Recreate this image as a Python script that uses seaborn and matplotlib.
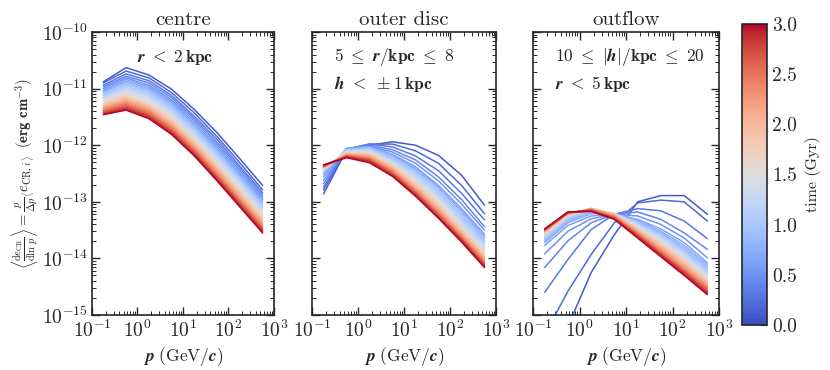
import numpy as np
import pandas as pd
import matplotlib
matplotlib.use('Agg')
import matplotlib.pyplot as plt
import seaborn as sns

# momentum bins (GeV/c) and snapshot times (Gyr)
momentum = [0.178, 0.562, 1.78, 5.62, 17.8, 56.2, 178, 562]
times = [0.1, 0.2, 0.3, 0.4, 0.5, 0.6, 0.7, 0.8, 0.9, 1.0,
         1.1, 1.2, 1.3, 1.4, 1.5, 1.6, 1.7, 1.8, 1.9, 2.0,
         2.1, 2.2, 2.3, 2.4, 2.5, 2.6, 2.7, 2.8, 2.9, 3.0]

# log10 of the CR energy density spectrum, one row per snapshot
centre_log = [
    [-10.88, -10.63, -10.76, -11.01, -11.37, -11.78, -12.24, -12.71],
    [-10.90, -10.69, -10.81, -11.07, -11.43, -11.85, -12.31, -12.79],
    [-10.94, -10.74, -10.86, -11.12, -11.49, -11.90, -12.37, -12.84],
    [-10.97, -10.78, -10.90, -11.16, -11.53, -11.95, -12.41, -12.88],
    [-11.00, -10.81, -10.94, -11.20, -11.57, -11.99, -12.45, -12.92],
    [-11.03, -10.84, -10.97, -11.23, -11.61, -12.03, -12.49, -12.96],
    [-11.05, -10.87, -11.00, -11.26, -11.64, -12.06, -12.52, -12.99],
    [-11.07, -10.89, -11.03, -11.29, -11.67, -12.09, -12.55, -13.01],
    [-11.10, -10.92, -11.06, -11.32, -11.70, -12.12, -12.58, -13.04],
    [-11.12, -10.95, -11.09, -11.35, -11.73, -12.15, -12.61, -13.07],
    [-11.14, -10.98, -11.12, -11.38, -11.76, -12.18, -12.64, -13.10],
    [-11.16, -11.00, -11.14, -11.41, -11.79, -12.21, -12.67, -13.13],
    [-11.18, -11.02, -11.17, -11.44, -11.82, -12.24, -12.70, -13.16],
    [-11.20, -11.05, -11.19, -11.46, -11.84, -12.26, -12.72, -13.18],
    [-11.22, -11.07, -11.22, -11.49, -11.87, -12.29, -12.75, -13.21],
    [-11.24, -11.09, -11.24, -11.51, -11.89, -12.32, -12.78, -13.24],
    [-11.25, -11.12, -11.27, -11.54, -11.92, -12.34, -12.80, -13.26],
    [-11.27, -11.14, -11.29, -11.56, -11.94, -12.37, -12.83, -13.29],
    [-11.29, -11.16, -11.31, -11.58, -11.96, -12.39, -12.85, -13.31],
    [-11.30, -11.18, -11.33, -11.61, -11.99, -12.42, -12.88, -13.34],
    [-11.32, -11.20, -11.35, -11.63, -12.01, -12.44, -12.90, -13.36],
    [-11.34, -11.22, -11.37, -11.65, -12.03, -12.46, -12.92, -13.38],
    [-11.35, -11.24, -11.39, -11.67, -12.05, -12.49, -12.95, -13.41],
    [-11.37, -11.26, -11.41, -11.69, -12.07, -12.51, -12.97, -13.43],
    [-11.39, -11.28, -11.43, -11.71, -12.09, -12.53, -12.99, -13.45],
    [-11.40, -11.30, -11.45, -11.73, -12.11, -12.55, -13.01, -13.47],
    [-11.42, -11.32, -11.47, -11.75, -12.13, -12.57, -13.03, -13.49],
    [-11.43, -11.34, -11.49, -11.77, -12.15, -12.59, -13.05, -13.51],
    [-11.45, -11.36, -11.51, -11.79, -12.17, -12.61, -13.07, -13.53],
    [-11.46, -11.38, -11.53, -11.81, -12.19, -12.63, -13.09, -13.55],
]

disc_log = [
    [-12.86, -12.09, -12.00, -11.94, -12.00, -12.18, -12.53, -13.06],
    [-12.79, -12.08, -11.98, -11.98, -12.10, -12.32, -12.71, -13.21],
    [-12.74, -12.07, -11.98, -12.03, -12.19, -12.45, -12.85, -13.32],
    [-12.68, -12.06, -12.00, -12.08, -12.26, -12.56, -12.96, -13.44],
    [-12.62, -12.06, -12.02, -12.12, -12.32, -12.63, -13.04, -13.50],
    [-12.56, -12.06, -12.03, -12.16, -12.38, -12.71, -13.12, -13.57],
    [-12.52, -12.07, -12.03, -12.17, -12.41, -12.74, -13.16, -13.61],
    [-12.49, -12.08, -12.04, -12.19, -12.43, -12.76, -13.19, -13.65],
    [-12.47, -12.08, -12.05, -12.22, -12.46, -12.80, -13.24, -13.69],
    [-12.46, -12.09, -12.06, -12.24, -12.49, -12.84, -13.28, -13.72],
    [-12.45, -12.10, -12.08, -12.26, -12.52, -12.88, -13.32, -13.76],
    [-12.44, -12.10, -12.09, -12.28, -12.55, -12.91, -13.35, -13.79],
    [-12.43, -12.11, -12.10, -12.30, -12.57, -12.94, -13.38, -13.81],
    [-12.43, -12.12, -12.11, -12.31, -12.60, -12.96, -13.40, -13.84],
    [-12.42, -12.12, -12.12, -12.32, -12.62, -12.99, -13.43, -13.86],
    [-12.42, -12.13, -12.13, -12.34, -12.64, -13.01, -13.45, -13.89],
    [-12.41, -12.14, -12.15, -12.35, -12.66, -13.04, -13.48, -13.91],
    [-12.41, -12.15, -12.16, -12.37, -12.68, -13.06, -13.50, -13.94],
    [-12.40, -12.15, -12.17, -12.39, -12.71, -13.08, -13.52, -13.96],
    [-12.40, -12.16, -12.18, -12.40, -12.73, -13.11, -13.54, -13.98],
    [-12.39, -12.16, -12.19, -12.42, -12.75, -13.13, -13.56, -14.00],
    [-12.39, -12.17, -12.20, -12.43, -12.77, -13.15, -13.58, -14.02],
    [-12.38, -12.17, -12.22, -12.45, -12.79, -13.17, -13.60, -14.04],
    [-12.38, -12.18, -12.23, -12.46, -12.81, -13.19, -13.62, -14.06],
    [-12.37, -12.19, -12.24, -12.48, -12.82, -13.21, -13.63, -14.08],
    [-12.37, -12.19, -12.25, -12.49, -12.84, -13.23, -13.65, -14.09],
    [-12.36, -12.20, -12.26, -12.51, -12.85, -13.25, -13.66, -14.11],
    [-12.36, -12.21, -12.28, -12.52, -12.87, -13.26, -13.68, -14.13],
    [-12.35, -12.21, -12.29, -12.54, -12.88, -13.28, -13.69, -14.14],
    [-12.35, -12.22, -12.31, -12.55, -12.90, -13.29, -13.71, -14.16],
]

outflow_log = [
    [-16.50, -15.20, -14.25, -13.58, -13.00, -12.89, -12.89, -13.22],
    [-15.35, -14.58, -13.93, -13.37, -13.02, -12.97, -13.00, -13.34],
    [-14.60, -14.02, -13.49, -13.22, -13.12, -13.16, -13.34, -13.65],
    [-14.16, -13.69, -13.37, -13.22, -13.18, -13.31, -13.55, -13.84],
    [-13.92, -13.52, -13.30, -13.22, -13.25, -13.40, -13.64, -13.99],
    [-13.77, -13.42, -13.25, -13.22, -13.31, -13.48, -13.72, -14.08],
    [-13.72, -13.37, -13.21, -13.21, -13.33, -13.52, -13.77, -14.12],
    [-13.69, -13.34, -13.19, -13.21, -13.34, -13.55, -13.81, -14.16],
    [-13.67, -13.32, -13.17, -13.21, -13.36, -13.57, -13.84, -14.19],
    [-13.65, -13.30, -13.15, -13.21, -13.37, -13.59, -13.87, -14.22],
    [-13.63, -13.28, -13.13, -13.21, -13.39, -13.62, -13.90, -14.25],
    [-13.61, -13.26, -13.12, -13.21, -13.40, -13.65, -13.93, -14.28],
    [-13.60, -13.25, -13.12, -13.21, -13.41, -13.66, -13.95, -14.30],
    [-13.59, -13.25, -13.12, -13.21, -13.43, -13.68, -13.97, -14.32],
    [-13.58, -13.24, -13.12, -13.21, -13.44, -13.69, -13.99, -14.34],
    [-13.57, -13.23, -13.12, -13.21, -13.45, -13.71, -14.01, -14.36],
    [-13.56, -13.23, -13.12, -13.22, -13.47, -13.73, -14.03, -14.38],
    [-13.55, -13.22, -13.12, -13.22, -13.48, -13.75, -14.05, -14.40],
    [-13.54, -13.22, -13.12, -13.23, -13.49, -13.77, -14.07, -14.42],
    [-13.53, -13.21, -13.12, -13.23, -13.51, -13.79, -14.10, -14.44],
    [-13.52, -13.21, -13.12, -13.24, -13.52, -13.81, -14.12, -14.46],
    [-13.52, -13.21, -13.13, -13.25, -13.53, -13.83, -14.14, -14.48],
    [-13.51, -13.20, -13.13, -13.25, -13.55, -13.85, -14.17, -14.50],
    [-13.51, -13.20, -13.14, -13.26, -13.56, -13.87, -14.19, -14.52],
    [-13.50, -13.20, -13.14, -13.27, -13.57, -13.89, -14.21, -14.54],
    [-13.50, -13.19, -13.15, -13.28, -13.58, -13.90, -14.22, -14.56],
    [-13.49, -13.19, -13.15, -13.29, -13.59, -13.92, -14.24, -14.58],
    [-13.49, -13.19, -13.16, -13.30, -13.61, -13.94, -14.26, -14.60],
    [-13.48, -13.18, -13.16, -13.30, -13.62, -13.95, -14.28, -14.62],
    [-13.48, -13.18, -13.17, -13.31, -13.64, -13.97, -14.30, -14.64],
]

titles = ['centre', 'outer disc', 'outflow']
labels = [
    [r'$\boldsymbol{r}\ \mathbf{<\ 2\,kpc}$'],
    [r'$\mathbf{5\ \leq}\ \boldsymbol{r}\mathbf{/kpc\ \leq\ 8}$',
     r'$\boldsymbol{h}\ \mathbf{<\ \pm 1\,kpc}$'],
    [r'$\mathbf{10\ \leq\ |}\boldsymbol{h}\mathbf{|/kpc\ \leq\ 20}$',
     r'$\boldsymbol{r}\ \mathbf{<\ 5\,kpc}$'],
]
label_x = [0.25, 0.12, 0.12]

rows = []
for name, block in zip(titles, [centre_log, disc_log, outflow_log]):
    for t, vals in zip(times, block):
        for p, v in zip(momentum, vals):
            rows.append({'region': name, 'time': t, 'p': p, 'e': 10.0 ** v})
df = pd.DataFrame(rows)

sns.set_style('ticks')
plt.rcParams['font.family'] = 'serif'
plt.rcParams['font.serif'] = ['cmr10']
plt.rcParams['mathtext.fontset'] = 'cm'
plt.rcParams['axes.formatter.use_mathtext'] = True
plt.rcParams['axes.unicode_minus'] = False

fig = plt.figure(figsize=(8.3, 3.7), dpi=100)
lefts = [0.1108, 0.3759, 0.6422]
widths = [0.2193, 0.2217, 0.2241]
axes = [fig.add_axes([l, 0.1486, w, 0.7649]) for l, w in zip(lefts, widths)]

for i, ax in enumerate(axes):
    sub = df[df['region'] == titles[i]]
    sns.lineplot(data=sub, x='p', y='e', hue='time', palette='coolwarm',
                 hue_norm=(0, 3), estimator=None, legend=False, lw=1.1, ax=ax)
    ax.set_xscale('log')
    ax.set_yscale('log')
    ax.set_xlim(1e-1, 1e3)
    ax.set_ylim(1e-15, 1e-10)
    ax.set_title(titles[i], fontsize=15, pad=5)
    ax.set_xlabel(r'$\boldsymbol{p}\ \mathrm{(GeV/}\boldsymbol{c}\mathrm{)}$', fontsize=12.5, labelpad=3)
    ax.tick_params(which='both', direction='in', top=True, right=True)
    ax.tick_params(which='major', length=6, width=1, labelsize=14, pad=3)
    ax.tick_params(which='minor', length=3, width=0.7)
    for s in ax.spines.values():
        s.set_linewidth(1.2)
    if i > 0:
        ax.set_ylabel('')
        ax.set_yticklabels([])
    for k, txt in enumerate(labels[i]):
        ax.text(label_x[i], 0.91 - 0.093 * k, txt, transform=ax.transAxes,
                fontsize=12.5, va='center', ha='left')

axes[0].set_ylabel(r'$\left\langle\frac{\mathrm{d}e_\mathrm{CR}}{\mathrm{d}\ln\,p}\right\rangle'
                   r' = \frac{p}{\Delta p}\left\langle e_{\mathrm{CR},i}\right\rangle'
                   r'\ \ \mathbf{(erg\ cm^{-3})}$', fontsize=10.5, labelpad=1)

cax = fig.add_axes([0.894, 0.1216, 0.0301, 0.8135])
sm = plt.cm.ScalarMappable(cmap='coolwarm', norm=plt.Normalize(0, 3))
cb = fig.colorbar(sm, cax=cax, ticks=np.arange(0, 3.01, 0.5))
cb.ax.set_yticklabels([f'{v:.1f}' for v in np.arange(0, 3.01, 0.5)])
cb.ax.tick_params(labelsize=14, direction='in', length=5)
cb.set_label('time (Gyr)', fontsize=11.5, labelpad=6)
cb.outline.set_linewidth(1.2)

fig.savefig('out.png', dpi=100)
